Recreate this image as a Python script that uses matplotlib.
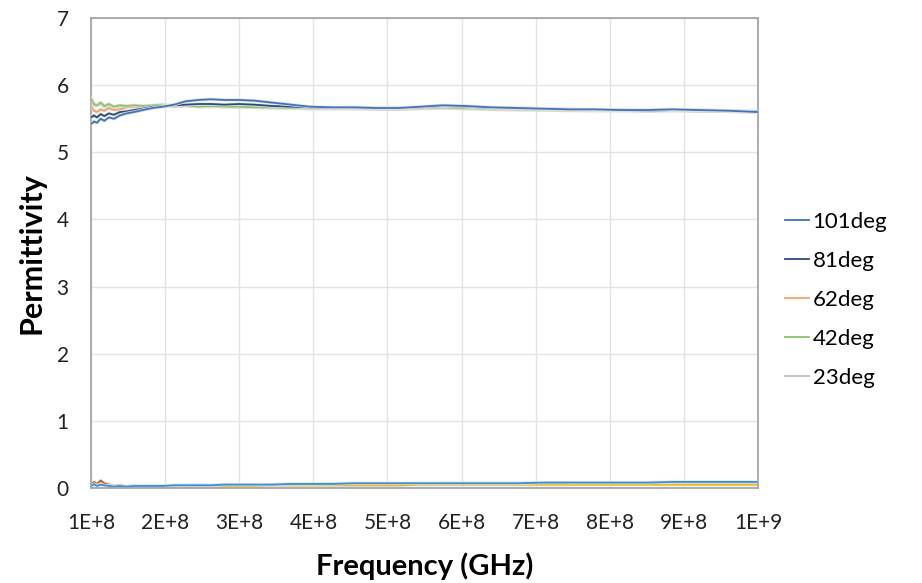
import matplotlib
matplotlib.use("Agg")
import matplotlib.pyplot as plt
import matplotlib.patheffects as pe
from matplotlib.ticker import FixedLocator

plt.rcParams["font.family"] = ["Lato", "DejaVu Sans"]

# frequency points, in units of 1E+8 Hz
freq = [1.00, 1.04, 1.08, 1.13, 1.18, 1.24, 1.31, 1.39, 1.48, 1.58,
        1.70, 1.83, 1.97, 2.12, 2.28, 2.45, 2.62, 2.80, 3.00, 3.20,
        3.45, 3.70, 3.95, 4.25, 4.55, 4.85, 5.15, 5.45, 5.75, 6.05,
        6.40, 6.75, 7.10, 7.45, 7.80, 8.15, 8.50, 8.85, 9.20, 9.60, 10.0]

# real part (permittivity), one list per temperature
eps_101 = [5.42, 5.46, 5.44, 5.50, 5.47, 5.52, 5.50, 5.55, 5.58, 5.60,
           5.63, 5.66, 5.68, 5.71, 5.76, 5.78, 5.79, 5.78, 5.78, 5.77,
           5.74, 5.71, 5.68, 5.67, 5.67, 5.66, 5.66, 5.68, 5.70, 5.69,
           5.67, 5.66, 5.65, 5.64, 5.64, 5.63, 5.63, 5.64, 5.63, 5.62, 5.60]
eps_81 = [5.52, 5.55, 5.52, 5.57, 5.54, 5.58, 5.56, 5.60, 5.61, 5.63,
          5.65, 5.68, 5.69, 5.70, 5.71, 5.72, 5.72, 5.71, 5.72, 5.71,
          5.69, 5.68, 5.67, 5.66, 5.67, 5.66, 5.66, 5.67, 5.69, 5.68,
          5.66, 5.66, 5.65, 5.64, 5.63, 5.63, 5.62, 5.63, 5.63, 5.62, 5.61]
eps_62 = [5.68, 5.62, 5.60, 5.64, 5.62, 5.66, 5.63, 5.64, 5.67, 5.68,
          5.67, 5.69, 5.70, 5.68, 5.70, 5.69, 5.70, 5.69, 5.69, 5.67,
          5.66, 5.66, 5.65, 5.65, 5.65, 5.64, 5.64, 5.65, 5.66, 5.65,
          5.64, 5.63, 5.63, 5.62, 5.62, 5.62, 5.61, 5.62, 5.61, 5.61, 5.60]
eps_42 = [5.80, 5.72, 5.70, 5.74, 5.69, 5.72, 5.68, 5.70, 5.69, 5.70,
          5.69, 5.70, 5.71, 5.69, 5.70, 5.68, 5.69, 5.68, 5.68, 5.67,
          5.67, 5.66, 5.66, 5.66, 5.66, 5.65, 5.66, 5.66, 5.67, 5.66,
          5.65, 5.64, 5.64, 5.63, 5.63, 5.63, 5.62, 5.63, 5.62, 5.62, 5.61]
eps_23 = [5.74, 5.70, 5.69, 5.72, 5.68, 5.70, 5.67, 5.69, 5.68, 5.69,
          5.68, 5.69, 5.70, 5.68, 5.69, 5.68, 5.68, 5.68, 5.67, 5.67,
          5.66, 5.66, 5.65, 5.65, 5.65, 5.65, 5.65, 5.66, 5.66, 5.65,
          5.64, 5.64, 5.63, 5.63, 5.62, 5.62, 5.62, 5.62, 5.62, 5.61, 5.60]

# imaginary part (loss), not in the legend
loss_a = [0.02, 0.06, 0.03, 0.05, 0.04, 0.03, 0.02, 0.03, 0.02, 0.03,
          0.03, 0.03, 0.03, 0.04, 0.04, 0.04, 0.04, 0.05, 0.05, 0.05,
          0.05, 0.06, 0.06, 0.06, 0.07, 0.07, 0.07, 0.07, 0.07, 0.07,
          0.07, 0.07, 0.08, 0.08, 0.08, 0.08, 0.08, 0.09, 0.09, 0.09, 0.09]
loss_b = [0.04, 0.07, 0.04, 0.06, 0.05, 0.03, 0.03, 0.03, 0.02, 0.03,
          0.02, 0.03, 0.03, 0.03, 0.04, 0.04, 0.04, 0.04, 0.04, 0.05,
          0.05, 0.05, 0.05, 0.06, 0.06, 0.06, 0.06, 0.06, 0.07, 0.07,
          0.07, 0.07, 0.07, 0.07, 0.07, 0.08, 0.08, 0.08, 0.08, 0.08, 0.08]
loss_c = [0.05, 0.09, 0.06, 0.11, 0.07, 0.05, 0.03, 0.04, 0.02, 0.03,
          0.02, 0.03, 0.02, 0.03, 0.02, 0.03, 0.03, 0.04, 0.03, 0.03,
          0.04, 0.04, 0.04, 0.04, 0.05, 0.05, 0.05, 0.05, 0.05, 0.05,
          0.05, 0.05, 0.05, 0.05, 0.06, 0.06, 0.06, 0.06, 0.06, 0.06, 0.06]
loss_d = [0.03, 0.05, 0.04, 0.05, 0.03, 0.03, 0.02, 0.02, 0.02, 0.02,
          0.02, 0.02, 0.03, 0.02, 0.03, 0.03, 0.03, 0.03, 0.03, 0.03,
          0.04, 0.04, 0.04, 0.04, 0.04, 0.04, 0.04, 0.05, 0.05, 0.05,
          0.05, 0.05, 0.05, 0.05, 0.05, 0.05, 0.05, 0.05, 0.05, 0.05, 0.05]

labels = ["101deg", "81deg", "62deg", "42deg", "23deg"]
eps_series = [eps_101, eps_81, eps_62, eps_42, eps_23]
eps_colors = ["#3f74b8", "#2b4b7e", "#f4a468", "#8cc26a", "#bfbfbf"]
eps_z = [6, 5, 3, 4, 2]  # blues on top, gray at the back
loss_series = [loss_b, loss_c, loss_d, loss_a]
loss_colors = ["#2b4b7e", "#b5601f", "#f5b800", "#3a8fd8"]

x = [f * 1e8 for f in freq]
halo = [pe.withStroke(linewidth=2.4, foreground="#e2e2e2")]

fig = plt.figure(figsize=(9.22, 5.83), dpi=100)
ax = fig.add_axes([0.0987, 0.163, 0.7235, 0.806])

for ys, c in zip(loss_series, loss_colors):
    ax.plot(x, ys, color=c, lw=1.3, path_effects=halo, zorder=2)

lines = []
for ys, c, lab, z in zip(eps_series, eps_colors, labels, eps_z):
    ln, = ax.plot(x, ys, color=c, lw=1.3, path_effects=halo, label=lab,
                  zorder=z)
    lines.append(ln)

ax.set_xlim(1e8, 1e9)
ax.set_ylim(0, 7)
xt = [k * 1e8 for k in range(1, 11)]
ax.xaxis.set_major_locator(FixedLocator(xt))
ax.set_xticklabels([f"{k}E+8" for k in range(1, 10)] + ["1E+9"])
ax.set_yticks(range(0, 8))

ax.grid(True, color="#e3e3e3", lw=1.0)
ax.set_axisbelow(True)
for s in ax.spines.values():
    s.set_color("#a6a6a6")
    s.set_linewidth(1.3)
ax.tick_params(length=0, labelsize=15, colors="#222222")
ax.tick_params(axis="x", pad=18)
ax.tick_params(axis="y", pad=16)

ax.set_xlabel("Frequency (GHz)", fontsize=21, fontweight="bold", labelpad=14)
ax.set_ylabel("Permittivity", fontsize=22, fontweight="bold", labelpad=8)

leg = ax.legend(handles=lines, loc="center left", bbox_to_anchor=(1.0, 0.40),
                frameon=False, fontsize=16, handlelength=1.1,
                handletextpad=0.15, labelspacing=0.85, borderaxespad=0.8)
for h in leg.legend_handles:
    h.set_path_effects([])

fig.savefig("out.png", dpi=100)
